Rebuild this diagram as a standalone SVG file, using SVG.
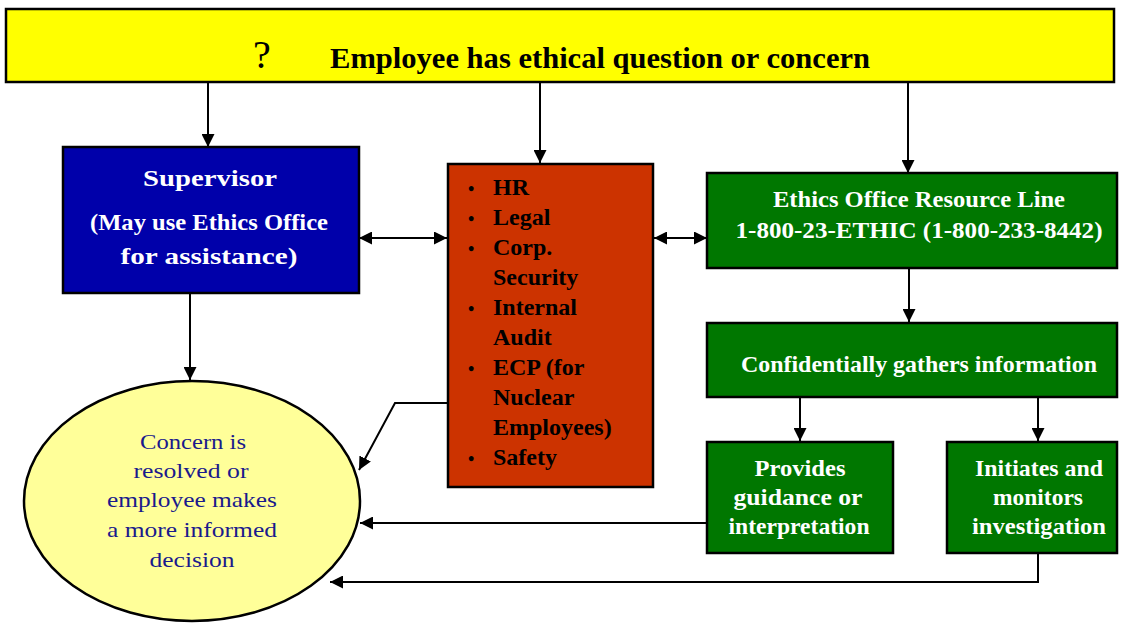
<svg xmlns="http://www.w3.org/2000/svg" width="1123" height="624" viewBox="0 0 1123 624">
  <style>
    .box { stroke: #000; stroke-width: 2.5; }
    .link { fill: none; stroke: #000; stroke-width: 2; }
    .serif { font-family: "Liberation Serif", "Times New Roman", serif; }
    .wt { fill: #fff; font-weight: bold; font-size: 23px; text-anchor: middle; }
    .rt { fill: #000; font-weight: bold; font-size: 24px; }
    .et { fill: #1a1a8c; font-size: 22px; text-anchor: middle; }
  </style>
  <defs>
    <marker id="arrow" viewBox="0 0 13 13" refX="13" refY="6.5" markerWidth="13" markerHeight="13" markerUnits="userSpaceOnUse" orient="auto-start-reverse">
      <path d="M0,0 L13,6.5 L0,13 Z" fill="#000"/>
    </marker>
  </defs>

  <rect width="1123" height="624" fill="#fff"/>

  <g id="connectors">
    <path class="link" d="M208,82 V147" marker-end="url(#arrow)"/>
    <path class="link" d="M540,82 V163" marker-end="url(#arrow)"/>
    <path class="link" d="M908,82 V173" marker-end="url(#arrow)"/>
    <path class="link" d="M359,238 H447" marker-start="url(#arrow)" marker-end="url(#arrow)"/>
    <path class="link" d="M654,238 H707" marker-start="url(#arrow)" marker-end="url(#arrow)"/>
    <path class="link" d="M190,293 V380" marker-end="url(#arrow)"/>
    <path class="link" d="M448,403 H395 L359,470" marker-end="url(#arrow)"/>
    <path class="link" d="M909,268 V322" marker-end="url(#arrow)"/>
    <path class="link" d="M800,397 V441" marker-end="url(#arrow)"/>
    <path class="link" d="M1038,397 V441" marker-end="url(#arrow)"/>
    <path class="link" d="M707,523 H360" marker-end="url(#arrow)"/>
    <path class="link" d="M1038,553 V582 H330" marker-end="url(#arrow)"/>
  </g>

  <g id="question">
    <rect class="box" x="6" y="9" width="1108" height="73" fill="#ffff00"/>
    <text class="serif" x="262" y="68" font-size="40" text-anchor="middle">?</text>
    <text class="serif" x="330" y="68" font-size="29" font-weight="bold" textLength="540" lengthAdjust="spacingAndGlyphs">Employee has ethical question or concern</text>
  </g>

  <g id="supervisor">
    <rect class="box" x="63" y="147" width="296" height="146" fill="#0000aa"/>
    <text class="serif wt" x="210" y="186" font-size="26" textLength="134" lengthAdjust="spacingAndGlyphs">Supervisor</text>
    <text class="serif wt" x="209" y="230" textLength="238" lengthAdjust="spacingAndGlyphs">(May use Ethics Office</text>
    <text class="serif wt" x="209" y="264" textLength="177" lengthAdjust="spacingAndGlyphs">for  assistance)</text>
  </g>

  <g id="departments">
    <rect class="box" x="448" y="164" width="205" height="323" fill="#cc3300"/>
    <g class="serif rt">
      <text x="468" y="195" font-size="18">•</text><text x="493" y="195">HR</text>
      <text x="468" y="225" font-size="18">•</text><text x="493" y="225">Legal</text>
      <text x="468" y="255" font-size="18">•</text><text x="493" y="255">Corp.</text>
      <text x="493" y="285">Security</text>
      <text x="468" y="315" font-size="18">•</text><text x="493" y="315">Internal</text>
      <text x="493" y="345">Audit</text>
      <text x="468" y="375" font-size="18">•</text><text x="493" y="375">ECP (for</text>
      <text x="493" y="405">Nuclear</text>
      <text x="493" y="435">Employees)</text>
      <text x="468" y="465" font-size="18">•</text><text x="493" y="465">Safety</text>
    </g>
  </g>

  <g id="resource-line">
    <rect class="box" x="707" y="173" width="410" height="95" fill="#007700"/>
    <text class="serif wt" x="919" y="207" textLength="292" lengthAdjust="spacingAndGlyphs">Ethics Office Resource Line</text>
    <text class="serif wt" x="919" y="238" textLength="367" lengthAdjust="spacingAndGlyphs">1-800-23-ETHIC (1-800-233-8442)</text>
  </g>

  <g id="gathers">
    <rect class="box" x="707" y="323" width="410" height="74" fill="#007700"/>
    <text class="serif wt" x="919" y="372" textLength="356" lengthAdjust="spacingAndGlyphs">Confidentially gathers information</text>
  </g>

  <g id="guidance">
    <rect class="box" x="707" y="442" width="186" height="111" fill="#007700"/>
    <text class="serif wt" x="800" y="476" textLength="91" lengthAdjust="spacingAndGlyphs">Provides</text>
    <text class="serif wt" x="798" y="505" textLength="129" lengthAdjust="spacingAndGlyphs">guidance or</text>
    <text class="serif wt" x="799" y="534" textLength="141" lengthAdjust="spacingAndGlyphs">interpretation</text>
  </g>

  <g id="investigation">
    <rect class="box" x="947" y="442" width="170" height="111" fill="#007700"/>
    <text class="serif wt" x="1039" y="476" textLength="128" lengthAdjust="spacingAndGlyphs">Initiates and</text>
    <text class="serif wt" x="1038" y="505" textLength="90" lengthAdjust="spacingAndGlyphs">monitors</text>
    <text class="serif wt" x="1039" y="534" textLength="134" lengthAdjust="spacingAndGlyphs">investigation</text>
  </g>

  <g id="outcome">
    <ellipse cx="192" cy="501" rx="168" ry="120" fill="#ffff99" stroke="#000" stroke-width="2.5"/>
    <text class="serif et" x="193" y="449" textLength="106" lengthAdjust="spacingAndGlyphs">Concern is</text>
    <text class="serif et" x="191" y="478" textLength="115" lengthAdjust="spacingAndGlyphs">resolved or</text>
    <text class="serif et" x="192" y="507" textLength="170" lengthAdjust="spacingAndGlyphs">employee makes</text>
    <text class="serif et" x="192" y="537" textLength="170" lengthAdjust="spacingAndGlyphs">a more informed</text>
    <text class="serif et" x="192" y="567" textLength="85" lengthAdjust="spacingAndGlyphs">decision</text>
  </g>
</svg>
